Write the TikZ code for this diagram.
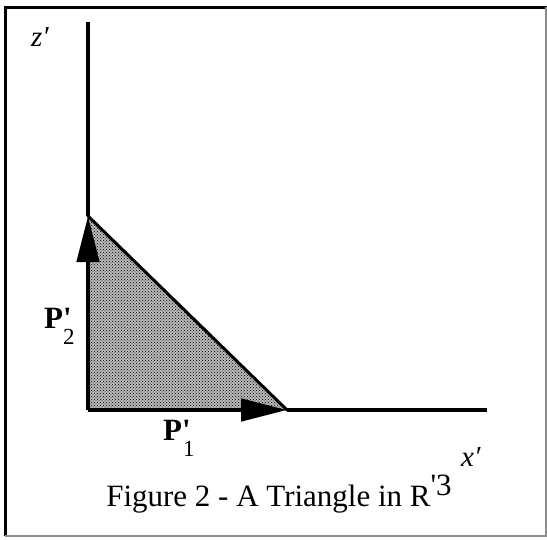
\documentclass[tikz,border=0pt]{standalone}
\usepackage{fontspec}
\setmainfont{Liberation Serif}
\newfontfamily\rawserif{Liberation Serif}
\usetikzlibrary{arrows.meta,patterns}
\begin{document}
\begin{tikzpicture}[x=1pt,y=-1pt,
  axis/.style={line width=3.2pt},
  vec/.style={line width=4.8pt,-{Triangle[length=46pt,width=22pt]}},
  hyp/.style={line width=3pt,line cap=round},
  lbl/.style={inner sep=0pt,anchor=base west}]
\useasboundingbox (0,0) rectangle (547,539);
% frame
\draw[line width=3pt] (5,536) -- (5,7) -- (547,7);
\draw[line width=1.5pt,black!45] (5,536) -- (546,536) -- (546,7);
% points
\coordinate (O) at (88,410);
\coordinate (Z) at (88,22);
\coordinate (X) at (487,410);
\coordinate (A) at (287,410);
\coordinate (B) at (88,216);
% triangle
\fill[black!28] (O) -- (A) -- (B) -- cycle;
\fill[pattern=crosshatch dots,pattern color=black] (O) -- (A) -- (B) -- cycle;
\draw[axis] (B) -- (Z);
\draw[axis] (A) -- (X);
\draw[hyp] (A) -- (B);
\draw[vec] (O) -- (A);
\draw[vec] (O) -- (B);
% labels
\node[lbl,font=\fontsize{29}{33}\selectfont\itshape] (zl) at (31,46) {z\char"2032};
\node[lbl,font=\fontsize{29}{33}\selectfont\itshape] (xl) at (461,466) {x\char"2032};
\node[lbl,font=\rawserif\fontsize{31}{35}\selectfont\bfseries] (p2) at (44,328) {P'};
\node[lbl,font=\fontsize{23}{27}\selectfont] (p2s) at (63,344) {2};
\node[lbl,font=\rawserif\fontsize{31}{35}\selectfont\bfseries] (p1) at (163,440) {P'};
\node[lbl,font=\fontsize{23}{27}\selectfont] (p1s) at (183,456) {1};
\node[inner sep=0pt,anchor=base,font=\rawserif\fontsize{31}{36}\selectfont] (cap) at (279,506) {Figure 2 - A Triangle in R\raisebox{0.33em}{'3}};
\end{tikzpicture}
\end{document}
